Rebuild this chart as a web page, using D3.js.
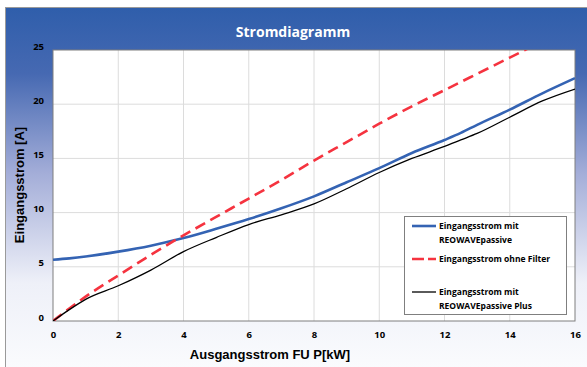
<!DOCTYPE html>
<html lang="de">
<head>
  <meta charset="utf-8">
  <title>Stromdiagramm</title>
  <style>
    body { margin: 0; background: #fff; }
    .tick text { font: bold 9.5px "Open Sans", sans-serif; fill: #000; }
    .legend text { font: bold 8.5px "Open Sans", sans-serif; fill: #000; }
  </style>
</head>
<body>
  <div id="chart"></div>
  <script src="https://d3js.org/d3.v7.min.js"></script>
  <script>
    // Ausgangsleistung [kW]
    var power = [0, 0.5, 1, 2, 3, 4, 5, 6, 7, 8, 9, 10, 11, 12, 12.5, 13, 14, 15, 16];
    // Eingangsstrom mit REOWAVEpassive
    var passive = [5.65, 5.78, 5.95, 6.4, 6.95, 7.65, 8.5, 9.4, 10.4, 11.5, 12.8, 14.1, 15.5, 16.7, 17.35, 18.1, 19.5, 21.0, 22.4];
    // Eingangsstrom ohne Filter
    var noFilter = [0, 1.15, 2.25, 4.2, 6.1, 7.9, 9.6, 11.3, 13.0, 14.8, 16.5, 18.2, 19.8, 21.3, 22.05, 22.8, 24.3, 25.8, 27.3];
    // Eingangsstrom mit REOWAVEpassive Plus
    var passivePlus = [0, 1.05, 2.0, 3.25, 4.7, 6.4, 7.7, 8.9, 9.8, 10.8, 12.2, 13.7, 15.0, 16.1, 16.7, 17.3, 18.8, 20.3, 21.4];

    var xTicks = [0, 2, 4, 6, 8, 10, 12, 14, 16];
    var yTicks = [0, 5, 10, 15, 20, 25];

    var series = [
      { name: ["Eingangsstrom mit", "REOWAVEpassive"], values: passive, color: "#3463b3", width: 2.6, dash: null },
      { name: ["Eingangsstrom ohne Filter"], values: noFilter, color: "#f5333f", width: 2.6, dash: "11,6" },
      { name: ["Eingangsstrom mit", "REOWAVEpassive Plus"], values: passivePlus, color: "#000", width: 1.3, dash: null }
    ];

    var W = 587, H = 367;
    var plot = { left: 53, top: 50, right: 575, bottom: 321 };

    var svg = d3.select("#chart").append("svg")
        .attr("width", W)
        .attr("height", H);

    var defs = svg.append("defs");
    var grad = defs.append("linearGradient")
        .attr("id", "bg").attr("x1", 0).attr("y1", 0).attr("x2", 0).attr("y2", 1);
    grad.append("stop").attr("offset", "0%").attr("stop-color", "#2f5eab");
    grad.append("stop").attr("offset", "18%").attr("stop-color", "#4669b2");
    grad.append("stop").attr("offset", "45%").attr("stop-color", "#a3add8");
    grad.append("stop").attr("offset", "75%").attr("stop-color", "#eef0f8");
    grad.append("stop").attr("offset", "100%").attr("stop-color", "#fbfcfe");

    defs.append("clipPath").attr("id", "clip")
      .append("rect")
        .attr("x", plot.left).attr("y", plot.top)
        .attr("width", plot.right - plot.left).attr("height", plot.bottom - plot.top);

    // background panel
    svg.append("rect")
        .attr("x", 5.5).attr("y", 7.5)
        .attr("width", W).attr("height", H)
        .attr("fill", "url(#bg)")
        .attr("stroke", "#9a9a9a");

    svg.append("text")
        .attr("x", 293).attr("y", 37)
        .attr("text-anchor", "middle")
        .attr("fill", "#fff")
        .style("font", "bold 14px 'Open Sans', sans-serif")
        .text("Stromdiagramm");

    var x = d3.scaleLinear().domain([0, 16]).range([plot.left, plot.right]);
    var y = d3.scaleLinear().domain([0, 25]).range([plot.bottom, plot.top]);

    svg.append("rect")
        .attr("x", plot.left).attr("y", plot.top)
        .attr("width", plot.right - plot.left).attr("height", plot.bottom - plot.top)
        .attr("fill", "#fff");

    // grid
    svg.append("g").selectAll("line")
        .data(xTicks.slice(1, -1))
        .enter().append("line")
        .attr("x1", function(d) { return x(d); }).attr("x2", function(d) { return x(d); })
        .attr("y1", plot.top).attr("y2", plot.bottom)
        .attr("stroke", "#dcdcdc");
    svg.append("g").selectAll("line")
        .data(yTicks.slice(1, -1))
        .enter().append("line")
        .attr("y1", function(d) { return y(d); }).attr("y2", function(d) { return y(d); })
        .attr("x1", plot.left).attr("x2", plot.right)
        .attr("stroke", "#dcdcdc");

    svg.append("rect")
        .attr("x", plot.left).attr("y", plot.top)
        .attr("width", plot.right - plot.left).attr("height", plot.bottom - plot.top)
        .attr("fill", "none")
        .attr("stroke", "#7f7f7f");

    // axes
    var xAxis = svg.append("g")
        .attr("transform", "translate(0," + plot.bottom + ")")
        .call(d3.axisBottom(x).tickValues(xTicks).tickSize(0).tickPadding(10));
    xAxis.select(".domain").remove();

    var yAxis = svg.append("g")
        .attr("transform", "translate(" + plot.left + ",0)")
        .call(d3.axisLeft(y).tickValues(yTicks).tickSize(0).tickPadding(9));
    yAxis.select(".domain").remove();
    yAxis.selectAll("text").attr("dy", "-0.1em");

    svg.append("text")
        .attr("transform", "translate(24,185) rotate(-90)")
        .attr("text-anchor", "middle")
        .style("font", "bold 13px 'Liberation Sans', Arial, sans-serif")
        .text("Eingangsstrom [A]");

    svg.append("text")
        .attr("x", 270).attr("y", 359)
        .attr("text-anchor", "middle")
        .style("font", "bold 13px 'Liberation Sans', Arial, sans-serif")
        .text("Ausgangsstrom FU P[kW]");

    // lines
    var line = d3.line()
        .x(function(d, i) { return x(power[i]); })
        .y(function(d) { return y(d); })
        .curve(d3.curveMonotoneX);

    var lines = svg.append("g").attr("clip-path", "url(#clip)");
    series.forEach(function(s) {
      lines.append("path")
          .attr("d", line(s.values))
          .attr("fill", "none")
          .attr("stroke", s.color)
          .attr("stroke-width", s.width)
          .attr("stroke-dasharray", s.dash);
    });

    // legend
    var legend = svg.append("g").attr("class", "legend");
    legend.append("rect")
        .attr("x", 404.5).attr("y", 216.5)
        .attr("width", 162).attr("height", 98)
        .attr("fill", "#fff")
        .attr("stroke", "#7f7f7f");

    var rowY = [226, 259, 292];
    series.forEach(function(s, i) {
      legend.append("line")
          .attr("x1", 412).attr("x2", 436)
          .attr("y1", rowY[i]).attr("y2", rowY[i])
          .attr("stroke", s.color)
          .attr("stroke-width", s.width)
          .attr("stroke-dasharray", s.dash ? "12,4" : null);
      s.name.forEach(function(t, j) {
        legend.append("text")
            .attr("x", 439).attr("y", rowY[i] + j * 14 + 3)
            .text(t);
      });
    });
  </script>
</body>
</html>
